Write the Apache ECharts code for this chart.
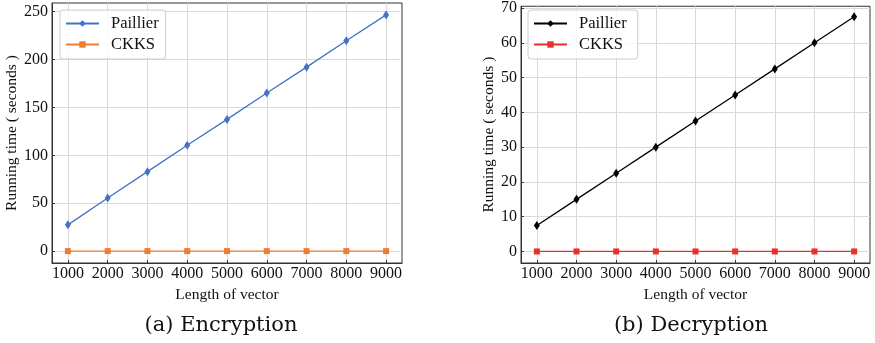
<!DOCTYPE html>
<html>
<head>
<meta charset="utf-8">
<script src="https://cdn.jsdelivr.net/npm/echarts@6/dist/echarts.min.js"></script>
<style>
  html, body { margin: 0; padding: 0; background: #fff; }
  #chart { width: 875px; height: 343px; }
</style>
</head>
<body>
<div id="chart"></div>
<script>
  // vector lengths on the x axis
  var vectorLengths = [1000, 2000, 3000, 4000, 5000, 6000, 7000, 8000, 9000];
  // (a) encryption running time, seconds
  var encPaillier = [27.5, 55.5, 83, 110.5, 137.5, 165, 192, 219.5, 246.5];
  var encCkks = [0.1, 0.1, 0.1, 0.1, 0.1, 0.1, 0.1, 0.1, 0.1];
  // (b) decryption running time, seconds
  var decPaillier = [7.5, 15, 22.5, 30, 37.5, 45, 52.5, 60, 67.5];
  var decCkks = [0.02, 0.02, 0.02, 0.02, 0.02, 0.02, 0.02, 0.02, 0.02];
  // tick labels
  var encTicks = [0, 50, 100, 150, 200, 250];
  var decTicks = [0, 10, 20, 30, 40, 50, 60, 70];

  var font = 'Liberation Serif';

  function pairs(ys) {
    return vectorLengths.map(function (x, i) { return [x, ys[i]]; });
  }

  function plain(v) { return String(v); }

  function xAxis(gridIndex) {
    return {
      type: 'value',
      gridIndex: gridIndex,
      min: 600,
      max: 9400,
      name: 'Length of vector',
      nameLocation: 'middle',
      nameGap: 19,
      nameTextStyle: { fontFamily: font, fontSize: 15.5, color: '#111' },
      axisLine: { show: true, onZero: false, lineStyle: { color: '#333', width: 1 } },
      axisTick: { show: true, inside: true, length: 3, customValues: vectorLengths, lineStyle: { color: '#333' } },
      axisLabel: { customValues: vectorLengths, formatter: plain, margin: 3, fontFamily: font, fontSize: 16, color: '#111' },
      splitLine: { show: true, lineStyle: { color: '#d9d9d9', width: 1 } }
    };
  }

  function yAxis(gridIndex, ticks, min, max, nameGap) {
    return {
      type: 'value',
      gridIndex: gridIndex,
      min: min,
      max: max,
      name: 'Running time ( seconds )',
      nameLocation: 'middle',
      nameGap: nameGap,
      nameTextStyle: { fontFamily: font, fontSize: 15.5, color: '#111' },
      axisLine: { show: true, onZero: false, lineStyle: { color: '#333', width: 1 } },
      axisTick: { show: true, inside: true, length: 3, customValues: ticks, lineStyle: { color: '#333' } },
      axisLabel: { customValues: ticks, formatter: plain, margin: 4, fontFamily: font, fontSize: 16, color: '#111' },
      splitLine: { show: true, lineStyle: { color: '#d9d9d9', width: 1 } }
    };
  }

  function legend(left, names) {
    return {
      data: names,
      orient: 'vertical',
      left: left,
      top: 10,
      itemWidth: 33,
      itemHeight: 8,
      itemGap: 4,
      padding: [5, 7, 6, 5],
      borderColor: '#cccccc',
      borderWidth: 1,
      borderRadius: 3,
      backgroundColor: 'rgba(255,255,255,0.8)',
      textStyle: { fontFamily: font, fontSize: 16.5, color: '#111', padding: [0, 0, 0, 7] }
    };
  }

  function line(name, data, color, symbol, size, idx) {
    return {
      name: name,
      type: 'line',
      xAxisIndex: idx,
      yAxisIndex: idx,
      data: pairs(data),
      symbol: symbol,
      symbolSize: size,
      showSymbol: true,
      lineStyle: { color: color, width: 1.3 },
      itemStyle: { color: color },
      animation: false
    };
  }

  var chart = echarts.init(document.getElementById('chart'), null, { renderer: 'canvas' });
  chart.setOption({
    backgroundColor: '#fff',
    animation: false,
    grid: [
      { left: 52, right: 473, top: 3, bottom: 80, show: true, borderColor: '#333', borderWidth: 1, containLabel: false },
      { left: 521, right: 5, top: 3, bottom: 80, show: true, borderColor: '#333', borderWidth: 1, containLabel: false }
    ],
    legend: [
      legend(60, ['Paillier', 'CKKS']),
      legend(528, ['Paillier ', 'CKKS '])
    ],
    xAxis: [xAxis(0), xAxis(1)],
    yAxis: [
      yAxis(0, encTicks, -12.3, 258.9, 31),
      yAxis(1, decTicks, -3.3, 70.5, 22)
    ],
    series: [
      line('Paillier', encPaillier, '#4472c4', 'diamond', [6, 9], 0),
      line('CKKS', encCkks, '#ed7d31', 'rect', 6, 0),
      line('Paillier ', decPaillier, '#000000', 'diamond', [6, 9], 1),
      line('CKKS ', decCkks, '#e8312a', 'rect', 6, 1)
    ],
    graphic: [
      { type: 'text', x: 221, y: 326, style: { text: '(a) Encryption', font: '21px "DejaVu Serif"', fill: '#111', textAlign: 'center', textVerticalAlign: 'middle' } },
      { type: 'text', x: 691, y: 326, style: { text: '(b) Decryption', font: '21px "DejaVu Serif"', fill: '#111', textAlign: 'center', textVerticalAlign: 'middle' } }
    ]
  });
</script>
</body>
</html>
